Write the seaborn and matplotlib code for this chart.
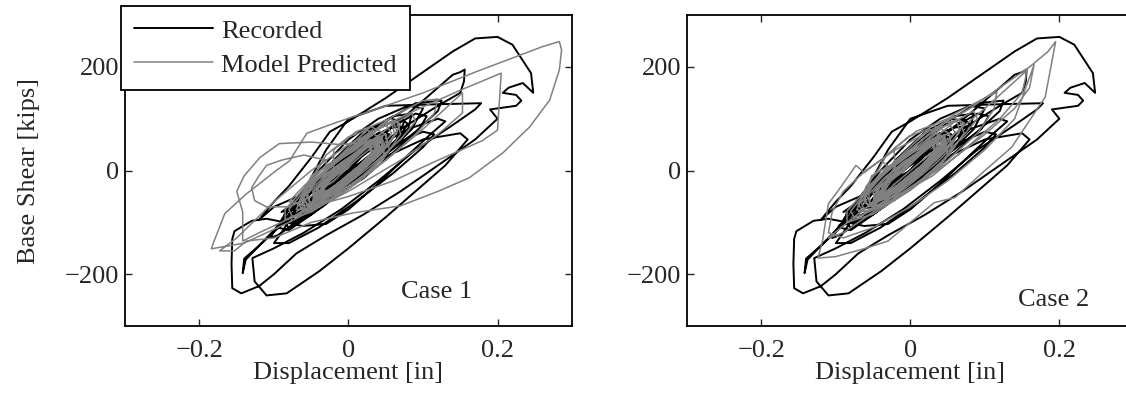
import numpy as np
import pandas as pd
import matplotlib
matplotlib.use("Agg")
import matplotlib.pyplot as plt
import seaborn as sns

# Recorded hysteresis (displacement [in], base shear [kips]) - same in both cases
recorded = [
    # small cycles
    (0.000, 0), (0.020, 30), (0.035, 48), (0.040, 40), (0.025, 15), (0.000, -15), (-0.025, -40), (-0.035, -45), (-0.030, -25), (-0.010, 0),
    (0.015, 30), (0.040, 60), (0.052, 65), (0.050, 45), (0.030, 15), (0.000, -25), (-0.030, -55), (-0.048, -62), (-0.045, -40), (-0.025, -10),
    (0.005, 35), (0.035, 68), (0.050, 78), (0.055, 62), (0.045, 50), (0.050, 40), (0.025, 0), (-0.010, -40), (-0.045, -70), (-0.060, -72), (-0.055, -50), (-0.030, -15),
    (0.000, 25), (0.030, 62), (0.046, 72), (0.040, 62), (0.052, 58), (0.048, 38), (0.020, 0), (-0.020, -45), (-0.050, -70), (-0.062, -68), (-0.050, -40), (-0.020, -5),
    (0.010, 35), (0.038, 70), (0.044, 60), (0.040, 72), (0.055, 62), (0.045, 35), (0.010, -10), (-0.030, -50), (-0.055, -65), (-0.045, -45), (-0.015, -5),
    (0.020, 45), (0.055, 82), (0.070, 85), (0.065, 60), (0.035, 20), (-0.005, -30), (-0.045, -72), (-0.070, -88), (-0.075, -75), (-0.055, -40), (-0.025, 0),
    # medium cycles
    (0.000, 40), (0.040, 85), (0.070, 100), (0.080, 90), (0.060, 50), (0.020, 0), (-0.020, -50), (-0.060, -90), (-0.075, -95), (-0.070, -65), (-0.040, -25),
    (-0.010, 30), (0.030, 80), (0.060, 105), (0.085, 110), (0.080, 80), (0.050, 35), (0.010, -20), (-0.035, -70), (-0.070, -100), (-0.085, -100), (-0.075, -70), (-0.045, -30),
    (-0.020, 20), (0.020, 75), (0.055, 100), (0.075, 95), (0.065, 60), (0.030, 15), (-0.010, -40), (-0.050, -85), (-0.080, -110), (-0.090, -95), (-0.070, -55),
    (-0.040, 0), (0.000, 60), (0.040, 100), (0.080, 125), (0.100, 120), (0.085, 80), (0.050, 30), (0.000, -30), (-0.045, -80), (-0.080, -115), (-0.095, -110), (-0.080, -75),
    (-0.050, -30), (-0.090, -120), (-0.100, -140), (-0.080, -140), (-0.040, -110), (0.010, -60), (0.060, -5), (0.100, 45), (0.115, 70), (0.100, 75), (0.060, 50), (0.010, 10), (-0.030, -30),
    (0.020, 40), (0.060, 85), (0.090, 110), (0.105, 105), (0.095, 80), (0.060, 35), (0.020, -15), (-0.030, -60), (-0.070, -95), (-0.090, -105), (-0.085, -80), (-0.060, -45), (-0.030, -5),
    (0.010, 45), (0.050, 95), (0.090, 130), (0.125, 135), (0.120, 115), (0.090, 75), (0.040, 20), (-0.010, -35), (-0.060, -90), (-0.095, -125), (-0.105, -130), (-0.095, -105), (-0.060, -65),
    # loop to 0.155 in
    (-0.010, -15), (0.030, 50), (0.080, 110), (0.120, 160), (0.140, 185), (0.150, 190), (0.156, 195), (0.155, 172), (0.150, 150),
    (0.120, 125), (0.070, 80), (0.020, 20), (-0.040, -50), (-0.090, -105), (-0.120, -145), (-0.140, -170), (-0.142, -198), (-0.138, -172),
    (-0.110, -130), (-0.080, -85), (-0.060, -40), (-0.030, 40), (0.000, 100), (0.050, 125), (0.120, 128), (0.178, 130), (0.170, 118),
    (0.140, 88), (0.090, 40), (0.040, -20), (-0.010, -75), (-0.060, -120), (-0.100, -150), (-0.129, -169), (-0.126, -214), (-0.110, -241),
    (-0.083, -237), (-0.039, -194), (0.000, -150), (0.050, -90), (0.090, -40), (0.130, 10), (0.160, 60), (0.150, 72), (0.100, 60),
    (0.040, 20), (-0.020, -30), (-0.060, -45), (-0.100, -70), (-0.120, -95),
    # largest excursion
    (-0.100, -60), (-0.080, -30), (-0.050, 25), (-0.025, 75), (0.000, 95), (0.050, 140), (0.100, 190), (0.140, 230), (0.170, 255),
    (0.200, 258), (0.220, 243), (0.245, 188), (0.248, 150), (0.234, 169), (0.215, 160), (0.207, 150), (0.225, 146), (0.232, 135),
    (0.225, 125), (0.190, 118), (0.200, 100), (0.170, 60), (0.120, 10), (0.070, -40), (0.020, -85), (-0.030, -125), (-0.070, -160),
    (-0.100, -200), (-0.120, -223), (-0.144, -237), (-0.156, -227), (-0.157, -180), (-0.156, -132), (-0.153, -117), (-0.130, -97),
    (-0.110, -93), (-0.085, -100), (-0.062, -107), (-0.030, -103), (0.000, -75), (0.040, -25), (0.080, 30), (0.110, 70), (0.130, 95),
    (0.120, 100), (0.080, 80), (0.030, 40), (-0.010, 0), (-0.040, -30), (-0.070, -60), (-0.090, -80), (-0.070, -70),
    # back to small cycles
    (-0.030, -5), (0.010, 40), (0.040, 72), (0.055, 70), (0.050, 45), (0.025, 10), (-0.010, -35), (-0.040, -60), (-0.052, -58), (-0.040, -30),
    (-0.010, 10), (0.020, 45), (0.035, 52), (0.032, 30), (0.010, 0), (-0.015, -30), (-0.030, -40), (-0.025, -20), (0.000, 0),
]

# Model predicted, case 1
case1 = [
    (0.000, 15), (0.020, 40), (0.035, 55), (0.038, 42), (0.020, 15), (-0.005, -15), (-0.025, -40), (-0.038, -48), (-0.035, -30), (-0.015, -5),
    (0.010, 30), (0.030, 55), (0.042, 62), (0.040, 45), (0.020, 12), (-0.010, -25), (-0.035, -50), (-0.045, -52), (-0.040, -30), (-0.020, -5),
    (0.005, 28), (0.025, 52), (0.040, 65), (0.045, 50), (0.030, 20), (0.000, -15), (-0.030, -45), (-0.048, -58), (-0.045, -38), (-0.025, -10),
    (0.000, 20), (0.020, 45), (0.033, 58), (0.035, 40), (0.015, 10), (-0.010, -20), (-0.030, -42), (-0.040, -45), (-0.032, -25), (-0.012, 0),
    (0.008, 32), (0.028, 58), (0.045, 66), (0.046, 48), (0.028, 18), (0.002, -12), (-0.028, -42), (-0.046, -55), (-0.048, -40), (-0.030, -12),
    (-0.005, 18), (0.018, 42), (0.030, 50), (0.032, 35), (0.015, 8), (-0.010, -22), (-0.028, -38), (-0.035, -40), (-0.025, -20), (-0.008, 2),
    (0.012, 35), (0.035, 62), (0.050, 70), (0.052, 52), (0.035, 22), (0.005, -15), (-0.030, -50), (-0.052, -62), (-0.055, -45), (-0.035, -15),
    (-0.010, 15), (0.015, 38), (0.028, 48), (0.030, 32), (0.012, 5), (-0.012, -22), (-0.030, -42), (-0.036, -42), (-0.028, -22), (-0.008, 0),
    (0.010, 25), (0.030, 50), (0.040, 56), (0.040, 40), (0.022, 12), (-0.005, -18), (-0.030, -45), (-0.042, -50), (-0.040, -32), (-0.020, -6),
    (-0.020, 40), (0.010, 75), (0.030, 85), (0.050, 70), (0.055, 40), (0.040, 10), (0.010, -25), (-0.020, -55), (-0.045, -70), (-0.060, -60), (-0.058, -30), (-0.040, 5),
    (-0.030, 30), (0.000, 65), (0.025, 78), (0.045, 60), (0.048, 30), (0.030, 0), (0.000, -35), (-0.030, -62), (-0.050, -66), (-0.058, -45), (-0.050, -10),
    # medium
    (0.010, 40), (0.040, 80), (0.060, 95), (0.065, 75), (0.045, 35), (0.010, -10), (-0.030, -55), (-0.060, -78), (-0.068, -65), (-0.055, -30), (-0.025, 10),
    (0.000, 45), (0.030, 85), (0.055, 100), (0.070, 90), (0.055, 50), (0.020, 5), (-0.020, -45), (-0.055, -75), (-0.070, -75), (-0.060, -40), (-0.030, 0),
    (0.015, 50), (0.045, 90), (0.065, 95), (0.070, 70), (0.050, 30), (0.015, -15), (-0.025, -55), (-0.058, -80), (-0.065, -60), (-0.045, -20), (-0.015, 20),
    (-0.005, 35), (0.025, 70), (0.050, 88), (0.058, 72), (0.040, 35), (0.005, -10), (-0.030, -50), (-0.055, -68), (-0.060, -50), (-0.040, -15), (-0.010, 25),
    (0.005, 40), (0.035, 78), (0.058, 92), (0.062, 70), (0.042, 30), (0.008, -12), (-0.028, -52), (-0.058, -74), (-0.062, -55), (-0.042, -18),
    (0.020, 45), (0.060, 90), (0.085, 110), (0.090, 95), (0.070, 60), (0.035, 15), (-0.005, -30), (-0.045, -70), (-0.075, -90), (-0.080, -75), (-0.060, -40), (-0.030, 0),
    (0.010, 50), (0.060, 105), (0.100, 135), (0.120, 138), (0.115, 110), (0.090, 70), (0.050, 20), (0.000, -35), (-0.050, -80), (-0.085, -95), (-0.085, -75), (-0.060, -35), (-0.030, 10),
    # upper-left excursions
    (-0.030, 20), (-0.060, 30), (-0.090, 20), (-0.110, 10), (-0.120, -10), (-0.130, -33), (-0.126, -58), (-0.110, -70),
    (-0.080, -70), (-0.050, -50), (-0.020, -20), (0.010, 20), (0.040, 55), (0.020, 55), (-0.010, 50), (-0.050, 55), (-0.093, 52),
    (-0.119, 25), (-0.140, -10), (-0.150, -40), (-0.142, -80), (-0.142, -136), (-0.120, -120), (-0.090, -100), (-0.050, -70),
    (0.000, -30), (0.050, 20), (0.100, 80), (0.153, 150), (0.153, 111), (0.120, 70), (0.070, 20), (0.000, -40), (-0.080, -100),
    (-0.140, -140), (-0.184, -151),
    # largest loop
    (-0.182, -142), (-0.166, -83), (-0.137, -45), (-0.097, 0), (-0.079, 19), (-0.056, 72), (-0.016, 93), (0.032, 116), (0.100, 150),
    (0.170, 190), (0.260, 239), (0.283, 249), (0.286, 233), (0.283, 194), (0.270, 136), (0.243, 84), (0.207, 34), (0.162, -14),
    (0.122, -39), (0.070, -68), (0.005, -82), (-0.050, -100), (-0.100, -130), (-0.137, -136), (-0.153, -155), (-0.173, -155),
    (-0.150, -130), (-0.100, -60), (-0.050, 0), (0.000, 50), (0.080, 110), (0.150, 155), (0.205, 188), (0.200, 78), (0.180, 58),
    (0.120, 20), (0.060, -20), (0.000, -50), (-0.050, -70), (-0.080, -60), (-0.060, -30),
    # settle
    (-0.030, 10), (0.005, 40), (0.030, 60), (0.040, 50), (0.025, 20), (0.000, -10), (-0.025, -38), (-0.040, -48), (-0.035, -28), (-0.015, -2),
    (0.005, 22), (0.025, 48), (0.038, 60), (0.042, 46), (0.026, 16), (-0.002, -16), (-0.028, -44), (-0.044, -54), (-0.042, -34), (-0.022, -8),
]

# Model predicted, case 2
case2 = [
    (0.000, 18), (0.022, 44), (0.036, 58), (0.040, 44), (0.022, 16), (-0.004, -16), (-0.026, -42), (-0.040, -50), (-0.036, -30), (-0.016, -4),
    (0.010, 32), (0.032, 58), (0.044, 64), (0.042, 46), (0.022, 12), (-0.010, -26), (-0.036, -52), (-0.046, -54), (-0.042, -32), (-0.020, -4),
    (0.006, 30), (0.026, 54), (0.042, 68), (0.046, 52), (0.030, 20), (0.000, -16), (-0.032, -46), (-0.050, -60), (-0.046, -40), (-0.026, -10),
    (0.000, 22), (0.022, 46), (0.034, 60), (0.036, 42), (0.016, 10), (-0.010, -20), (-0.030, -44), (-0.042, -46), (-0.034, -26), (-0.012, 0),
    (0.010, 34), (0.030, 60), (0.046, 68), (0.048, 50), (0.030, 18), (0.002, -12), (-0.030, -44), (-0.048, -56), (-0.050, -42), (-0.032, -12),
    (-0.004, 20), (0.018, 44), (0.032, 52), (0.034, 36), (0.016, 8), (-0.010, -22), (-0.030, -40), (-0.036, -42), (-0.026, -20), (-0.008, 2),
    (0.014, 36), (0.036, 64), (0.052, 72), (0.054, 54), (0.036, 22), (0.006, -16), (-0.032, -52), (-0.054, -64), (-0.056, -46), (-0.036, -16),
    (-0.010, 16), (0.016, 40), (0.030, 50), (0.032, 34), (0.012, 6), (-0.012, -22), (-0.032, -44), (-0.038, -44), (-0.030, -22), (-0.008, 0),
    (0.010, 26), (0.032, 52), (0.042, 58), (0.042, 42), (0.024, 12), (-0.006, -20), (-0.032, -46), (-0.044, -52), (-0.042, -34), (-0.020, -6),
    (-0.022, 42), (0.008, 76), (0.030, 88), (0.052, 72), (0.056, 42), (0.040, 10), (0.010, -26), (-0.022, -58), (-0.046, -72), (-0.062, -62), (-0.060, -32), (-0.042, 4),
    (-0.032, 30), (-0.002, 66), (0.024, 80), (0.046, 62), (0.050, 30), (0.030, -2), (0.000, -36), (-0.032, -64), (-0.052, -68), (-0.060, -46), (-0.052, -10),
    # medium
    (0.012, 42), (0.042, 82), (0.062, 98), (0.066, 76), (0.046, 36), (0.010, -10), (-0.030, -56), (-0.062, -80), (-0.070, -66), (-0.056, -30), (-0.026, 10),
    (0.000, 46), (0.030, 88), (0.056, 104), (0.072, 92), (0.056, 50), (0.020, 4), (-0.020, -46), (-0.056, -78), (-0.072, -76), (-0.062, -40), (-0.032, 0),
    (0.016, 52), (0.046, 92), (0.066, 98), (0.072, 72), (0.052, 30), (0.016, -16), (-0.026, -58), (-0.060, -82), (-0.066, -62), (-0.046, -20), (-0.016, 20),
    (-0.004, 36), (0.026, 72), (0.052, 90), (0.060, 74), (0.040, 34), (0.004, -12), (-0.032, -52), (-0.056, -70), (-0.062, -50), (-0.040, -14), (-0.010, 26),
    (0.020, 48), (0.060, 95), (0.085, 115), (0.090, 100), (0.068, 62), (0.035, 15), (-0.005, -32), (-0.045, -72), (-0.075, -92), (-0.080, -78), (-0.060, -42), (-0.030, 0),
    (0.010, 52), (0.060, 110), (0.100, 140), (0.116, 151), (0.112, 118), (0.090, 72), (0.050, 20), (0.000, -38), (-0.050, -84), (-0.085, -100), (-0.085, -78), (-0.060, -38), (-0.030, 8),
    # left loops
    (-0.040, 20), (-0.062, -4), (-0.073, 10), (-0.097, -39), (-0.110, -64), (-0.118, -136), (-0.124, -169), (-0.100, -166),
    (-0.060, -150), (-0.030, -136), (0.000, -100), (0.032, -62), (0.060, -52), (0.100, 0), (0.136, 45), (0.181, 142), (0.195, 249),
    (0.185, 230), (0.160, 200), (0.120, 160), (0.080, 120), (0.030, 80), (-0.020, 40), (-0.060, 0), (-0.090, -40), (-0.105, -80),
    (-0.110, -120), (-0.090, -130), (-0.050, -110), (0.000, -70), (0.050, -20), (0.100, 40), (0.140, 100), (0.166, 204), (0.160, 160),
    (0.140, 120), (0.100, 70), (0.050, 15), (0.000, -35), (-0.050, -80), (-0.090, -120), (-0.110, -130), (-0.080, -95), (-0.040, -50),
    (0.000, 0), (0.050, 60), (0.100, 120), (0.157, 194), (0.150, 150), (0.120, 100), (0.080, 50), (0.030, -10), (-0.020, -50),
    (-0.050, -60), (-0.040, -40),
    # settle
    (-0.020, 10), (0.010, 42), (0.032, 62), (0.042, 52), (0.026, 20), (0.000, -12), (-0.026, -40), (-0.042, -50), (-0.036, -28), (-0.014, -2),
    (0.006, 24), (0.026, 50), (0.040, 62), (0.044, 48), (0.028, 16), (-0.002, -18), (-0.030, -46), (-0.046, -56), (-0.044, -36), (-0.022, -8),
]

x_ticks = [-0.2, 0, 0.2]
x_labels = ["\u22120.2", "0", "0.2"]
y_ticks = [-200, 0, 200]
y_labels = ["\u2212200", "0", "200"]
case_labels = ["Case 1", "Case 2"]
case_pos = [(0.118, -235), (0.192, -249)]


def to_df(pts):
    df = pd.DataFrame(pts, columns=["disp", "shear"])
    df["step"] = np.arange(len(df))
    return df


rec_df = to_df(recorded)
pred_dfs = [to_df(case1), to_df(case2)]

sns.set_style("ticks")
plt.rcParams["font.family"] = ["Liberation Serif", "DejaVu Serif"]
fs = 19

fig = plt.figure(figsize=(11.26, 3.94), dpi=100)
ax1 = fig.add_axes([0.111, 0.1726, 0.397, 0.789])
ax2 = fig.add_axes([0.610, 0.1726, 0.397, 0.789])

for ax, pred_df, txt, pos in zip([ax1, ax2], pred_dfs, case_labels, case_pos):
    sns.lineplot(data=rec_df, x="disp", y="shear", sort=False, estimator=None,
                 color="black", linewidth=1.4, ax=ax, label="Recorded")
    sns.lineplot(data=pred_df, x="disp", y="shear", sort=False, estimator=None,
                 color="#808080", linewidth=1.1, ax=ax, label="Model Predicted")
    ax.set_xlim(-0.3, 0.3)
    ax.set_ylim(-300, 300)
    ax.set_xticks(x_ticks)
    ax.set_xticklabels(x_labels)
    ax.set_yticks(y_ticks)
    ax.set_yticklabels(y_labels)
    ax.tick_params(direction="in", top=True, right=True, length=5, width=1, labelsize=fs)
    ax.tick_params(axis="x", pad=10)
    ax.tick_params(axis="y", pad=4)
    for s in ax.spines.values():
        s.set_linewidth(1.3)
        s.set_color("black")
    ax.set_xlabel("Displacement [in]", fontsize=fs, labelpad=0)
    ax.set_ylabel("")
    ax.text(pos[0], pos[1], txt, fontsize=fs, ha="center", va="center")
    ax.get_legend().remove()

ax1.set_ylabel("Base Shear [kips]", fontsize=fs, labelpad=18)

handles, labels = ax1.get_lines()[:2], ["Recorded", "Model Predicted"]
leg = ax1.legend(handles, labels, loc="upper left", bbox_to_anchor=(121 / 1126, 1 - 6 / 394),
                 bbox_transform=fig.transFigure, borderaxespad=0, frameon=True, fancybox=False,
                 handlelength=3.0, handletextpad=0.3, borderpad=0.5, labelspacing=0.4,
                 fontsize=fs, framealpha=1)
leg.get_frame().set_edgecolor("black")
leg.get_frame().set_linewidth(1.3)

fig.savefig("out.png", dpi=100)
